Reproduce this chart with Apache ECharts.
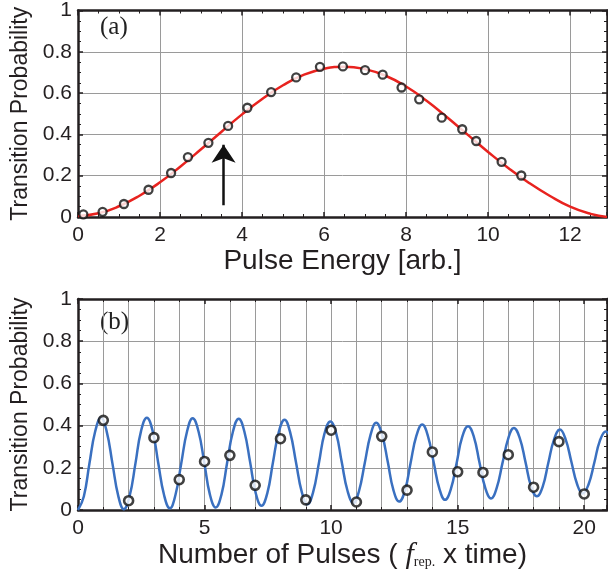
<!DOCTYPE html>
<html>
<head>
<meta charset="utf-8">
<script src="https://cdn.jsdelivr.net/npm/echarts@6/dist/echarts.min.js"></script>
<style>
html,body{margin:0;padding:0;background:#fff;}
#c{width:608px;height:582px;}
</style>
</head>
<body>
<div id="c"></div>
<script>
// ---- Panel (a): Pulse energy scan ----
const energyDotsX = [0.13,0.60,1.12,1.72,2.27,2.68,3.18,3.66,4.13,4.71,5.32,5.90,6.46,7.00,7.43,7.89,8.32,8.87,9.37,9.71,10.33,10.81];
const energyDotsY = [0.013,0.025,0.063,0.132,0.213,0.290,0.359,0.441,0.529,0.605,0.676,0.727,0.729,0.711,0.689,0.627,0.570,0.481,0.425,0.368,0.267,0.201];
const energyCurveX = [0,0.5,1,1.5,2,2.5,3,3.5,4,4.5,5,5.5,6,6.5,7,7.5,8,8.5,9,9.5,10,10.5,11,11.5,12,12.5,12.9];
const energyCurveY = [0.005,0.018,0.052,0.103,0.168,0.245,0.328,0.413,0.497,0.573,0.638,0.688,0.718,0.728,0.716,0.684,0.632,0.563,0.483,0.399,0.315,0.236,0.165,0.103,0.050,0.015,0.0];
const arrowX = 3.55;
const arrowY = [0.057, 0.35];
const energyTicks = [0,2,4,6,8,10,12];

// ---- Panel (b): Number of pulses ----
const pulseDotsX = [1,2,3,4,5,6,7,8,9,10,11,12,13,14,15,16,17,18,19,20];
const pulseDotsY = [0.425,0.044,0.343,0.144,0.230,0.259,0.117,0.338,0.048,0.378,0.038,0.349,0.094,0.275,0.181,0.178,0.262,0.108,0.324,0.076];
const pulseCurveX = [0,0.23,0.45,0.68,0.91,1.13,1.36,1.59,1.81,2.04,2.27,2.49,2.72,2.95,3.17,3.40,3.63,3.85,4.08,4.31,4.53,4.76,4.99,5.21,5.44,5.67,5.89,6.12,6.35,6.57,6.80,7.02,7.25,7.48,7.70,7.93,8.16,8.38,8.61,8.84,9.06,9.29,9.52,9.74,9.97,10.20,10.42,10.65,10.88,11.10,11.33,11.56,11.78,12.01,12.24,12.46,12.69,12.92,13.14,13.37,13.60,13.82,14.05,14.28,14.50,14.73,14.96,15.18,15.41,15.64,15.86,16.09,16.32,16.54,16.77,17.00,17.22,17.45,17.68,17.90,18.13,18.36,18.58,18.81,19.04,19.26,19.49,19.72,19.94,20.17,20.40,20.62,20.85,21.08];
const pulseCurveY = [0.0,0.064,0.219,0.373,0.437,0.374,0.221,0.067,0.004,0.067,0.221,0.374,0.437,0.374,0.223,0.071,0.008,0.071,0.222,0.373,0.435,0.373,0.224,0.074,0.012,0.074,0.223,0.371,0.433,0.373,0.227,0.081,0.020,0.080,0.224,0.368,0.428,0.369,0.228,0.086,0.027,0.085,0.224,0.363,0.420,0.363,0.227,0.090,0.033,0.089,0.223,0.357,0.413,0.358,0.227,0.095,0.040,0.093,0.223,0.352,0.405,0.353,0.227,0.100,0.048,0.099,0.223,0.346,0.397,0.347,0.226,0.105,0.055,0.104,0.222,0.340,0.389,0.342,0.227,0.112,0.065,0.111,0.223,0.335,0.381,0.337,0.230,0.122,0.078,0.121,0.225,0.329,0.372,0.329];
const pulseTicks = [0,5,10,15,20];

const yTicks = [0,0.2,0.4,0.6,0.8,1];

const zip = (xs, ys) => xs.map((x, i) => [x, ys[i]]);

const FONT = 'Liberation Sans, Arial, sans-serif';
const SERIF = 'Liberation Serif, Times New Roman, serif';
const AX = '#231f20';
const GRIDC = '#9a9a9a';

function xAxisCfg(gridIndex, max, interval, minorSplit, name, nameGap, showLabels, pos, ticks, minorN) {
  return {
    type: 'value', gridIndex, min: 0, max, interval, position: pos,
    axisLine: {show: true, onZero: false, lineStyle: {color: AX, width: 2.5}},
    axisTick: {show: true, inside: true, length: 5, lineStyle: {color: AX, width: 1.5}},
    minorTick: {show: true, splitNumber: minorN, length: 3, lineStyle: {color: AX, width: 1}},
    splitLine: {show: showLabels, lineStyle: {color: GRIDC, width: 1}},
    minorSplitLine: {show: showLabels && minorSplit, lineStyle: {color: GRIDC, width: 1}},
    axisLabel: {show: showLabels, color: AX, fontFamily: FONT, fontSize: 21, margin: 8,
      showMaxLabel: false,
      formatter: v => (ticks.indexOf(v) >= 0 ? String(v) : '')},
    name: showLabels ? name : '', nameLocation: 'middle', nameGap,
    nameTextStyle: {color: AX, fontFamily: FONT, fontSize: 28}
  };
}
function yAxisCfg(gridIndex, showLabels, pos) {
  return {
    type: 'value', gridIndex, min: 0, max: 1, interval: 0.2, position: pos,
    axisLine: {show: true, onZero: false, lineStyle: {color: AX, width: 2.5}},
    axisTick: {show: true, inside: true, length: 5, lineStyle: {color: AX, width: 1.5}},
    minorTick: {show: true, splitNumber: 4, length: 3, lineStyle: {color: AX, width: 1}},
    splitLine: {show: showLabels, lineStyle: {color: GRIDC, width: 1}},
    axisLabel: {show: showLabels, color: AX, fontFamily: FONT, fontSize: 21, margin: 6,
      formatter: v => (yTicks.some(t => Math.abs(t - v) < 1e-9) ? String(+v.toFixed(1)) : '')},
    name: showLabels ? 'Transition Probability' : '', nameLocation: 'middle', nameGap: 44,
    nameTextStyle: {color: AX, fontFamily: FONT, fontSize: 23}
  };
}

const chart = echarts.init(document.getElementById('c'), null, {renderer: 'canvas'});
const option = {
  backgroundColor: '#fff',
  animation: false,
  grid: [
    {left: 78, top: 6, right: 1, height: 211},
    {left: 78, top: 299, right: 1, height: 211}
  ],
  xAxis: [
    xAxisCfg(0, 12.9, 2, false, 'Pulse Energy [arb.]', 27, true, 'bottom', energyTicks, 4),
    xAxisCfg(0, 12.9, 2, false, '', 0, false, 'top', energyTicks, 4),
    Object.assign(xAxisCfg(1, 20.9, 5, true, 'Number of Pulses ( {f|f}{sub|rep.} x time)', 27, true, 'bottom', pulseTicks, 5), {
      nameTextStyle: {color: AX, fontFamily: FONT, fontSize: 28,
        rich: {
          f: {fontFamily: SERIF, fontStyle: 'italic', fontSize: 30, color: AX},
          sub: {fontFamily: SERIF, fontSize: 14, color: AX, padding: [15, 0, 0, 0]}
        }}
    }),
    xAxisCfg(1, 20.9, 5, true, '', 0, false, 'top', pulseTicks, 5)
  ],
  yAxis: [
    yAxisCfg(0, true, 'left'),
    yAxisCfg(0, false, 'right'),
    yAxisCfg(1, true, 'left'),
    yAxisCfg(1, false, 'right')
  ],
  graphic: [
    {type: 'text', left: 100, top: 15, style: {text: '(a)', font: '25px "Liberation Serif", serif', fill: '#222'}},
    {type: 'text', left: 100, top: 310, style: {text: '(b)', font: '25px "Liberation Serif", serif', fill: '#222'}}
  ],
  series: [
    {
      type: 'line', xAxisIndex: 0, yAxisIndex: 0, data: zip(energyCurveX, energyCurveY),
      smooth: 0.5, showSymbol: false, clip: true,
      lineStyle: {color: '#e8231f', width: 2.5}, z: 3
    },
    {
      type: 'scatter', xAxisIndex: 0, yAxisIndex: 0, data: zip(energyDotsX, energyDotsY),
      symbol: 'circle', symbolSize: 8,
      itemStyle: {color: '#fff', borderColor: '#111', borderWidth: 2.3}, z: 5
    },
    {
      type: 'lines', coordinateSystem: 'cartesian2d', xAxisIndex: 0, yAxisIndex: 0,
      data: [{coords: [[arrowX, arrowY[0]], [arrowX, arrowY[1]]]}],
      symbol: ['none', 'arrow'], symbolSize: [10, 18],
      lineStyle: {color: '#111', width: 2.5, opacity: 1}, z: 6
    },
    {
      type: 'line', xAxisIndex: 2, yAxisIndex: 2, data: zip(pulseCurveX, pulseCurveY),
      smooth: 0.45, showSymbol: false, clip: true,
      lineStyle: {color: '#3a70c0', width: 2.5}, z: 3
    },
    {
      type: 'scatter', xAxisIndex: 2, yAxisIndex: 2, data: zip(pulseDotsX, pulseDotsY),
      symbol: 'circle', symbolSize: 9,
      itemStyle: {color: '#fff', borderColor: '#111', borderWidth: 2.6}, z: 5
    }
  ]
};
chart.setOption(option);
</script>
</body>
</html>
